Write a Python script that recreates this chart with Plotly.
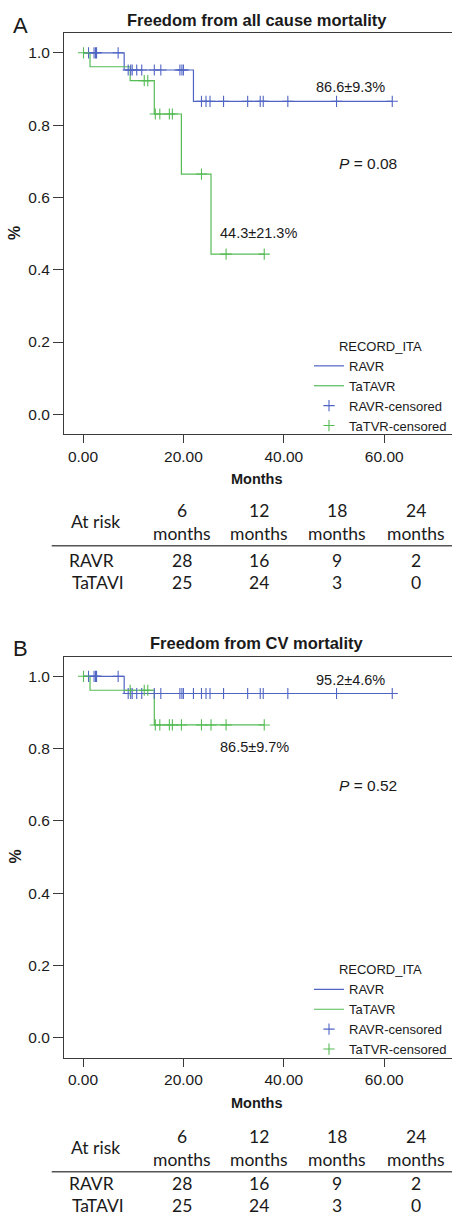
import numpy as np
import plotly.graph_objects as go

# ---------------- data ----------------
# Panel A: freedom from all cause mortality (KM steps: time, survival)
ravr_A_t = [0, 8.2, 22.0, 61.6]
ravr_A_s = [1.0, 0.9524, 0.8658, 0.8658]
ravr_A_cens = [1.1, 2.2, 2.5, 2.7, 7.0, 9.0, 9.5, 9.8, 10.7, 11.7, 14.2, 15.5, 19.3, 19.7,
               20.0, 23.6, 24.5, 25.3, 28.0, 32.8, 35.3, 35.9, 40.8, 50.5, 61.6]
tatavr_A_t = [0, 1.4, 9.4, 14.2, 19.6, 25.5, 36.1]
tatavr_A_s = [1.0, 0.9615, 0.9231, 0.8308, 0.6646, 0.4431, 0.4431]
tatavr_A_cens = [0.1, 12.2, 12.9, 14.4, 15.3, 17.2, 17.8, 23.6, 28.5, 36.1]

# Panel B: freedom from CV mortality
ravr_B_t = [0, 8.2, 61.6]
ravr_B_s = [1.0, 0.9524, 0.9524]
ravr_B_cens = [1.1, 2.2, 2.5, 2.7, 7.0, 9.0, 9.5, 9.8, 10.7, 11.7, 14.2, 15.5, 19.3, 19.7,
               20.0, 22.0, 23.6, 24.5, 25.3, 28.0, 32.8, 35.3, 35.9, 40.8, 50.5, 61.6]
tatavr_B_t = [0, 1.4, 14.2, 36.1]
tatavr_B_s = [1.0, 0.9615, 0.8654, 0.8654]
tatavr_B_cens = [0.1, 9.4, 12.2, 12.9, 14.4, 15.3, 17.2, 17.8, 19.6, 23.6, 25.5, 28.5, 36.1]

x_ticks = [0, 20, 40, 60]
y_ticks = [0.0, 0.2, 0.4, 0.6, 0.8, 1.0]

# At-risk tables
risk_headers = ["6", "12", "18", "24"]
ravr_risk_A = [28, 16, 9, 2]
tatavi_risk_A = [25, 24, 3, 0]
ravr_risk_B = [28, 16, 9, 2]
tatavi_risk_B = [25, 24, 3, 0]

# ---------------- styling ----------------
W, H = 452, 1218
BLUE = "#5064c4"
GREEN = "#55bb55"
TXT = "#1a1a1a"
AX = "#3a3a3a"
FONT = "Liberation Sans, Arial, sans-serif"
TFONT = "Lato, 'Open Sans', sans-serif"


def px(x):
    return x / W


def py(y):
    return 1 - y / H


def step_lookup(t, s, c):
    idx = np.searchsorted(np.array(t), np.array(c), side="right") - 1
    return list(np.array(s)[idx])


fig = go.Figure()

panels = [
    dict(xa="x", ya="y", leg="legend",
         rt=ravr_A_t, rs=ravr_A_s, rc=ravr_A_cens,
         gt=tatavr_A_t, gs=tatavr_A_s, gc=tatavr_A_cens),
    dict(xa="x2", ya="y2", leg="legend2",
         rt=ravr_B_t, rs=ravr_B_s, rc=ravr_B_cens,
         gt=tatavr_B_t, gs=tatavr_B_s, gc=tatavr_B_cens),
]

for p in panels:
    fig.add_trace(go.Scatter(x=p["rt"], y=p["rs"], mode="lines", line_shape="hv",
                             line=dict(color=BLUE, width=1.2), name="RAVR",
                             xaxis=p["xa"], yaxis=p["ya"], legend=p["leg"]))
    fig.add_trace(go.Scatter(x=p["gt"], y=p["gs"], mode="lines", line_shape="hv",
                             line=dict(color=GREEN, width=1.2), name="TaTAVR",
                             xaxis=p["xa"], yaxis=p["ya"], legend=p["leg"]))
    fig.add_trace(go.Scatter(x=p["rc"], y=step_lookup(p["rt"], p["rs"], p["rc"]),
                             mode="markers", name="RAVR-censored",
                             marker=dict(symbol="cross-thin", size=8,
                                         line=dict(color=BLUE, width=1.1)),
                             xaxis=p["xa"], yaxis=p["ya"], legend=p["leg"]))
    fig.add_trace(go.Scatter(x=p["gc"], y=step_lookup(p["gt"], p["gs"], p["gc"]),
                             mode="markers", name="TaTVR-censored",
                             marker=dict(symbol="cross-thin", size=8,
                                         line=dict(color=GREEN, width=1.1)),
                             xaxis=p["xa"], yaxis=p["ya"], legend=p["leg"]))

x_range = [-3.785, 73.5]
y_range = [-0.0553, 1.0548]
A_top, A_bot = 33.0, 434.3
OFF = 623.5
B_top, B_bot = A_top + OFF, A_bot + OFF

xcommon = dict(range=x_range, tickvals=x_ticks, tickformat=".2f", showline=True,
               mirror=True, linecolor=AX, linewidth=1, ticks="outside", ticklen=8,
               tickcolor=AX, showgrid=False, zeroline=False,
               tickfont=dict(family=FONT, size=15.5, color=TXT))
ycommon = dict(range=y_range, tickvals=y_ticks, tickformat=".1f", showline=True,
               mirror=False, linecolor=AX, linewidth=1, ticks="outside", ticklen=10,
               tickcolor=AX, showgrid=False, zeroline=False,
               tickfont=dict(family=FONT, size=15.5, color=TXT))

fig.update_layout(
    width=W, height=H, margin=dict(l=0, r=0, t=0, b=0),
    paper_bgcolor="white", plot_bgcolor="white",
    xaxis=dict(domain=[px(64), 1], anchor="y", **xcommon),
    yaxis=dict(domain=[py(A_bot), py(A_top)], anchor="x", **ycommon),
    xaxis2=dict(domain=[px(64), 1], anchor="y2", **xcommon),
    yaxis2=dict(domain=[py(B_bot), py(B_top)], anchor="x2", **ycommon),
)

legend_style = dict(xref="paper", yref="paper", xanchor="left", yanchor="top",
                    bgcolor="rgba(0,0,0,0)", borderwidth=0,
                    font=dict(family=FONT, size=13, color=TXT),
                    title=dict(text="RECORD_ITA", side="top center",
                               font=dict(family=FONT, size=13, color=TXT)),
                    tracegroupgap=0, itemwidth=30)
fig.update_layout(
    legend=dict(x=px(309), y=py(334), **legend_style),
    legend2=dict(x=px(309), y=py(334 + OFF), **legend_style),
)

ann = []


def text(x, y, s, size, bold=False, fam=FONT, angle=0, xanchor="center"):
    ann.append(dict(x=px(x), y=py(y), xref="paper", yref="paper", text=(f"<b>{s}</b>" if bold else s),
                    showarrow=False, xanchor=xanchor, yanchor="middle", textangle=angle,
                    font=dict(family=fam, size=size, color=TXT)))


for off, title, letter, a1, a2, pv in [
    (0, "Freedom from all cause mortality", "A",
     (350, 87.3, "86.6±9.3%"), (258.3, 233.3, "44.3±21.3%"), (368, 163.3, "<i>P</i> = 0.08")),
    (OFF, "Freedom from CV mortality", "B",
     (350, 680 - OFF, "95.2±4.6%"), (254, 746.7 - OFF, "86.5±9.7%"), (368, 785.7 - OFF, "<i>P</i> = 0.52")),
]:
    text(20, 25 + off, letter, 22)
    text(257, 19.5 + off, title, 16.5, bold=True)
    text(a1[0], a1[1] + off, a1[2], 14.5)
    text(a2[0], a2[1] + off, a2[2], 14.5)
    text(pv[0], pv[1] + off, pv[2], 15.5)
    text(15, 233 + off, "%", 16, bold=True, angle=-90)
    text(257, 479 + off, "Months", 14.5, bold=True)

col_x = [181.7, 259.3, 337.3, 415.5]
shapes = []
# (header offset, body-row offset) for each table
for hoff, roff, rr, tr in [(0, 0, ravr_risk_A, tatavi_risk_A),
                           (626, 623, ravr_risk_B, tatavi_risk_B)]:
    fs = 17.5
    text(95, 521.7 + hoff, "At risk", fs, fam=TFONT)
    text(91, 560 + roff, "RAVR", fs, fam=TFONT)
    text(98, 582.7 + roff, "TaTAVI", fs, fam=TFONT)
    for i, cx in enumerate(col_x):
        text(cx, 510 + hoff, risk_headers[i], fs, fam=TFONT)
        text(cx, 533.3 + hoff, "months", fs, fam=TFONT)
        text(cx, 560 + roff, str(rr[i]), fs, fam=TFONT)
        text(cx, 582.7 + roff, str(tr[i]), fs, fam=TFONT)
    shapes.append(dict(type="line", xref="paper", yref="paper", x0=px(51.7), x1=1,
                       y0=py(545.7 + hoff), y1=py(545.7 + hoff),
                       line=dict(color="#555555", width=1.5)))

fig.update_layout(annotations=ann, shapes=shapes)
fig.write_html("out.html", config={"displayModeBar": False},
               post_script="document.body.style.margin='0';document.body.style.overflow='hidden';")
